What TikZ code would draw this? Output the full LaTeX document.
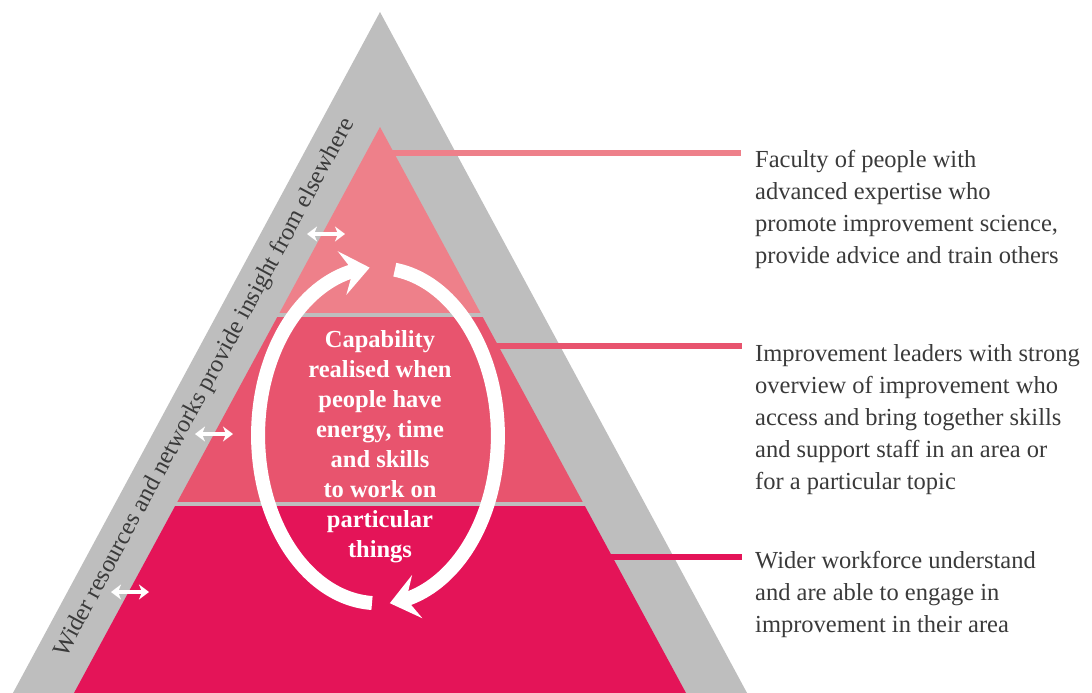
\documentclass[tikz,border=0pt]{standalone}
\usepackage{fontspec}
\setmainfont{Liberation Serif}
\usetikzlibrary{arrows.meta,bending}
\definecolor{frame}{RGB}{190,190,190}
\definecolor{tierA}{RGB}{238,128,138}
\definecolor{tierB}{RGB}{232,84,110}
\definecolor{tierC}{RGB}{228,20,88}
\definecolor{ink}{RGB}{58,58,58}
\begin{document}
\begin{tikzpicture}[x=1pt,y=-1pt,
  % multi-line nodes are placed by the baseline of their last line
  note/.style={font=\fontsize{24.5}{32}\selectfont, text=ink, align=left,
    anchor=base west, inner sep=0pt},
  core/.style={font=\fontsize{24.5}{30}\selectfont\bfseries, text=white,
    align=center, anchor=base, inner sep=0pt},
  side/.style={font=\fontsize{24.5}{28}\selectfont, text=ink, rotate=61.7,
    inner sep=0pt},
  leader/.style={line width=6pt},
  looparrow/.style={white, line width=14pt,
    -{Stealth[length=28pt,width=44pt,inset=11pt]}},
  swaparrow/.style={white, line width=3.6pt,
    {Stealth[length=10pt,width=15pt,inset=3pt]}-{Stealth[length=10pt,width=15pt,inset=3pt]}},
]
\useasboundingbox (0,0) rectangle (1092,693);
\clip (0,0) rectangle (1092,693);

% outer grey pyramid
\fill[frame] (380,12) -- (761.6,720) -- (-1.6,720) -- cycle;

% three tiers of the inner pyramid
\begin{scope}
  \clip (380,127) -- (700.6,720) -- (59.4,720) -- cycle;
  \fill[tierA] (0,100) rectangle (1092,313);
  \fill[tierB] (0,317) rectangle (1092,502);
  \fill[tierC] (0,506) rectangle (1092,720);
\end{scope}

% label along the left side
\node[side] (sidetext) at (205,388)
  {Wider resources and networks provide insight from elsewhere};

% exchange arrows across the outer band
\coordinate (x1a) at (307,234); \coordinate (x1b) at (345,234);
\coordinate (x2a) at (195,434); \coordinate (x2b) at (233,434);
\coordinate (x3a) at (111,592); \coordinate (x3b) at (149,592);
\draw[swaparrow] (x1a) -- (x1b);
\draw[swaparrow] (x2a) -- (x2b);
\draw[swaparrow] (x3a) -- (x3b);

% the cycle around the central statement
\coordinate (cycL) at (372,603);
\coordinate (cycR) at (394.8,269.7);
\draw[looparrow] (cycL) arc[start angle=92.9, end angle=266, x radius=120, y radius=168];
\draw[looparrow] (cycR) arc[start angle=278.1, end angle=444.3, x radius=120, y radius=168];

\node[core] (centre) at (380,557)
  {Capability\\realised when\\people have\\energy, time\\and skills\\to work on\\particular\\things};

% descriptions of each tier
\node[note] (t1) at (755,263)
  {Faculty of people with\\advanced expertise who\\promote improvement science,\\provide advice and train others};
\node[note] (t2) at (755,489)
  {Improvement leaders with strong\\overview of improvement who\\access and bring together skills\\and support staff in an area or\\for a particular topic};
\node[note] (t3) at (755,632)
  {Wider workforce understand\\and are able to engage in\\improvement in their area};

% leader lines from the tiers to their descriptions
\coordinate (l1a) at (390,153); \coordinate (l1b) at (741,153);
\coordinate (l2a) at (494,346); \coordinate (l2b) at (742,346);
\coordinate (l3a) at (608,557); \coordinate (l3b) at (742,557);
\draw[leader, tierA] (l1a) -- (l1b);
\draw[leader, tierB] (l2a) -- (l2b);
\draw[leader, tierC] (l3a) -- (l3b);
\end{tikzpicture}
\end{document}
